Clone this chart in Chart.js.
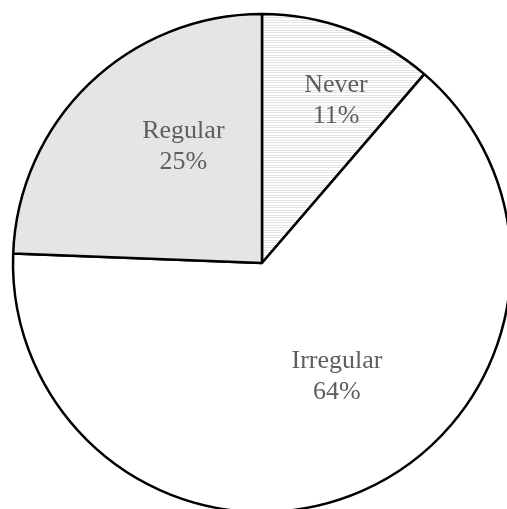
<!DOCTYPE html>
<html>
<head>
<meta charset="utf-8">
<script src="https://cdn.jsdelivr.net/npm/chart.js@4/dist/chart.umd.min.js"></script>
<style>
  html, body { margin: 0; padding: 0; background: #ffffff; overflow: hidden; width: 507px; height: 509px; }
  #wrap { position: absolute; left: 0; top: 0; width: 524px; height: 526px; }
</style>
</head>
<body>
<div id="wrap"><canvas id="c" width="524" height="526"></canvas></div>
<script>
// Data (clockwise from 12 o'clock)
const categories = ["Never", "Irregular", "Regular"];
const shares = [11.3, 64.3, 24.4];           // slice sizes as drawn
const percentLabels = ["11%", "64%", "25%"];  // text printed on the slices

// hatched fill for "Never"
function hatch() {
  const p = document.createElement('canvas');
  p.width = 4; p.height = 5;
  const g = p.getContext('2d');
  g.fillStyle = '#ffffff'; g.fillRect(0, 0, 4, 5);
  g.fillStyle = '#e4e4e4';
  g.fillRect(0, 0, 4, 1);
  g.fillRect(0, 2, 4, 1);
  return g.createPattern(p, 'repeat');
}
const ctx0 = document.getElementById('c').getContext('2d');
const fills = [hatch(), '#ffffff', '#e5e5e5'];

// label placement relative to each arc (fraction of radius, angle shift in degrees)
const labelPlace = [
  { r: 0.71, shift: 4.4 },
  { r: 0.55, shift: -9.6 },
  { r: 0.56, shift: 9.6 }
];

const sliceLabels = {
  id: 'sliceLabels',
  afterDatasetsDraw(chart) {
    const ctx = chart.ctx;
    const meta = chart.getDatasetMeta(0);
    ctx.save();
    ctx.font = '26px "Liberation Serif"';
    ctx.fillStyle = '#5e5e5e';
    ctx.textAlign = 'center';
    ctx.textBaseline = 'alphabetic';
    meta.data.forEach((arc, i) => {
      const p = arc.getProps(['x', 'y', 'startAngle', 'endAngle', 'outerRadius'], true);
      const a = (p.startAngle + p.endAngle) / 2 + labelPlace[i].shift * Math.PI / 180;
      const rr = p.outerRadius * labelPlace[i].r;
      const cx = p.x + Math.cos(a) * rr;
      const cy = p.y + Math.sin(a) * rr;
      ctx.fillText(categories[i], cx, cy - 10);
      ctx.fillText(percentLabels[i], cx, cy + 21);
    });
    ctx.restore();
  }
};

new Chart(ctx0, {
  type: 'pie',
  data: {
    labels: categories,
    datasets: [{
      data: shares,
      backgroundColor: fills,
      borderColor: '#000000',
      borderWidth: 2.5,
      radius: 249,
      hoverOffset: 0
    }]
  },
  options: {
    responsive: false,
    animation: false,
    events: [],
    layout: { padding: 0 },
    plugins: {
      legend: { display: false },
      tooltip: { enabled: false }
    }
  },
  plugins: [sliceLabels]
});
</script>
</body>
</html>
